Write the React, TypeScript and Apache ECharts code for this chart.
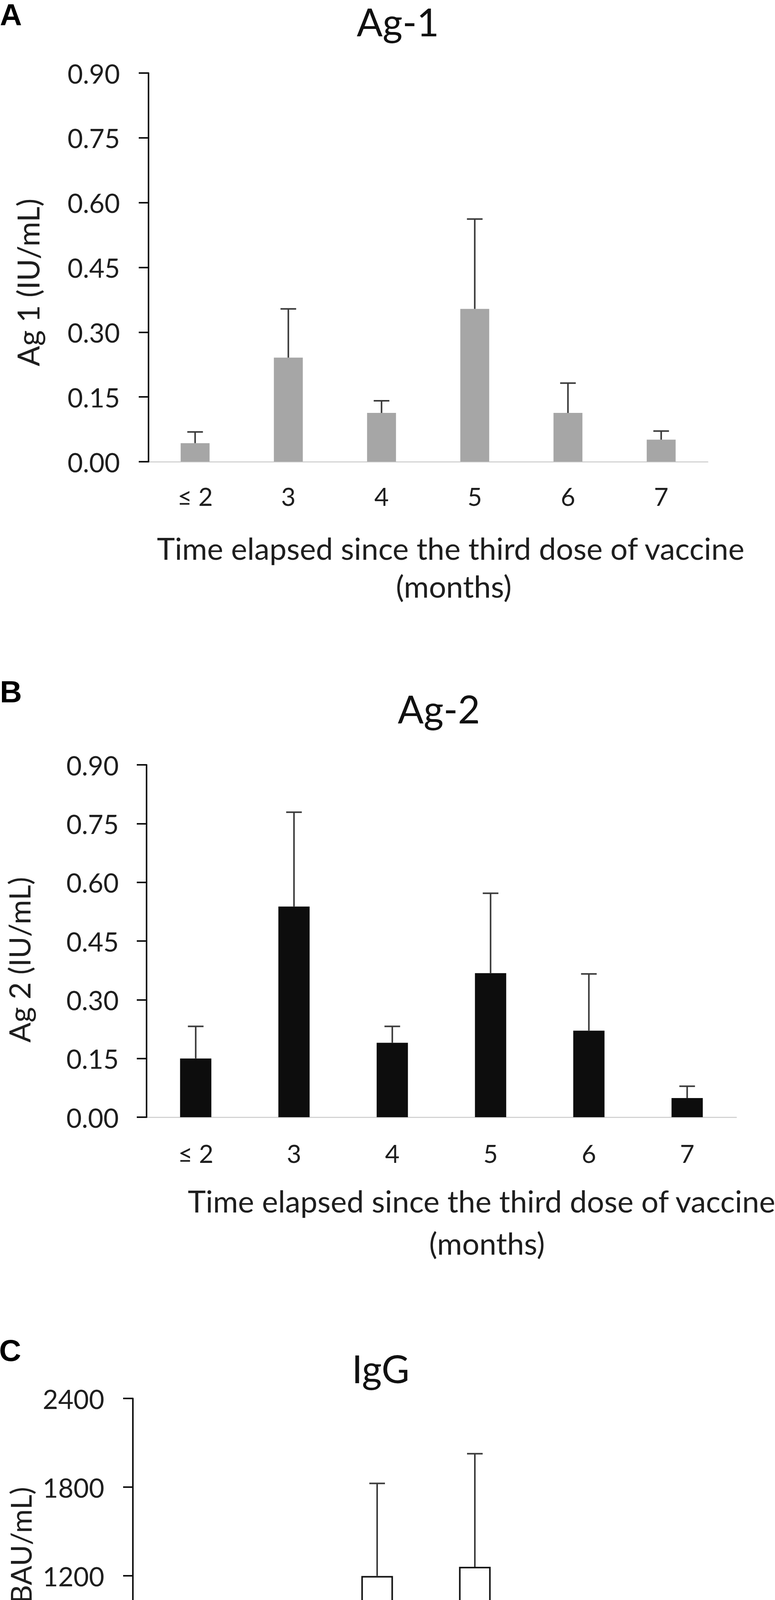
import React, { useEffect, useRef } from "react";
import * as echarts from "echarts";

// ---- data ----
const categories = ["≤ 2", "3", "4", "5", "6", "7"];

const ag1Mean = [0.043, 0.241, 0.113, 0.354, 0.113, 0.051];
const ag1Sd = [0.026, 0.113, 0.028, 0.208, 0.069, 0.020];

const ag2Mean = [0.150, 0.538, 0.190, 0.368, 0.221, 0.049];
const ag2Sd = [0.082, 0.241, 0.042, 0.204, 0.145, 0.030];

const iggMean = [82, 484, 1199, 1261, 279, 62];
const iggSd = [26, 186, 626, 765, 141, 27];

const agTicks = { min: 0, max: 0.9, interval: 0.15 };
const iggTicks = { min: 0, max: 2400, interval: 600 };

const panelLetters = ["A", "B", "C"];
const titles = ["Ag-1", "Ag-2", "IgG"];
const yNames = ["Ag 1 (IU/mL)", "Ag 2 (IU/mL)", "IgG (BAU/mL)"];
const xNameLine1 = "Time elapsed since the third dose of vaccine";
const xNameLine2 = ["(months)", "(months)", "(Months)"];

const FONT = "Lato, 'Open Sans', sans-serif";
const TEXT = "#1e1e1e";

// ---- layout (pixels) ----
const layout = [
  {
    grid: { left: 380, top: 187, width: 1431, height: 995 },
    barWidth: 74,
    catMargin: 56,
    yLabelMargin: 73,
    letter: [28, 38],
    title: [1018, 55],
    yName: [71, 723],
    yNameSize: 77,
    x1: [1153, 1403],
    x2: [1161, 1500],
  },
  {
    grid: { left: 375, top: 1958, width: 1509, height: 902 },
    barWidth: 80,
    catMargin: 60,
    yLabelMargin: 71,
    letter: [28, 1771],
    title: [1123, 1814],
    yName: [48, 2457],
    yNameSize: 76,
    x1: [1232, 3074],
    x2: [1246, 3182],
  },
  {
    grid: { left: 340, top: 3580, width: 1500, height: 908 },
    barWidth: 81,
    catMargin: 58,
    yLabelMargin: 73,
    letter: [26, 3457],
    title: [974, 3503],
    yName: [52, 4031],
    yNameSize: 74,
    x1: [1116, 4660],
    x2: [1125, 4762],
  },
];

const panelData = [
  { mean: ag1Mean, sd: ag1Sd, ticks: agTicks, decimals: 2 },
  { mean: ag2Mean, sd: ag2Sd, ticks: agTicks, decimals: 2 },
  { mean: iggMean, sd: iggSd, ticks: iggTicks, decimals: 0 },
];

const barStyles = [
  { color: "#a6a6a6" },
  { color: "#0d0d0d" },
  { color: "#ffffff", borderColor: "#111111", borderWidth: 4 },
];

export default function App() {
  const ref = useRef<HTMLDivElement>(null);

  useEffect(() => {
    if (!ref.current) return;
    const chart = echarts.init(ref.current, null, { renderer: "svg" });

    const grids: any[] = [];
    const xAxes: any[] = [];
    const yAxes: any[] = [];
    const series: any[] = [];
    const graphics: any[] = [];

    panelData.forEach((p, k) => {
      const L = layout[k];
      grids.push({ ...L.grid, containLabel: false });
      xAxes.push({
        type: "category",
        gridIndex: k,
        data: categories,
        axisTick: { show: false },
        axisLine: { show: true, lineStyle: { color: "#d3d3d3", width: 3 } },
        axisLabel: {
          fontFamily: FONT,
          fontSize: 64,
          color: TEXT,
          margin: L.catMargin,
        },
        z: 1,
      });
      yAxes.push({
        type: "value",
        gridIndex: k,
        min: p.ticks.min,
        max: p.ticks.max,
        interval: p.ticks.interval,
        splitLine: { show: false },
        axisLine: { show: true, lineStyle: { color: "#111", width: 4 } },
        axisTick: { show: true, length: 25, lineStyle: { color: "#111", width: 4 } },
        axisLabel: {
          fontFamily: FONT,
          fontSize: 68,
          color: TEXT,
          margin: L.yLabelMargin,
          formatter: (v: number) => v.toFixed(p.decimals),
        },
        z: 5,
      });
      series.push({
        type: "bar",
        xAxisIndex: k,
        yAxisIndex: k,
        data: p.mean,
        barWidth: L.barWidth,
        itemStyle: barStyles[k],
        z: 2,
      });
      series.push({
        type: "custom",
        xAxisIndex: k,
        yAxisIndex: k,
        encode: { x: 0, y: [1, 2] },
        data: p.mean.map((m, i) => [i, m, m + p.sd[i]]),
        z: 3,
        renderItem: (_params: any, api: any) => {
          const i = api.value(0);
          const a = api.coord([i, api.value(1)]);
          const b = api.coord([i, api.value(2)]);
          const cap = 20;
          const st = { stroke: "#3a3a3a", lineWidth: 4 };
          return {
            type: "group",
            children: [
              { type: "line", shape: { x1: a[0], y1: a[1], x2: b[0], y2: b[1] }, style: st },
              { type: "line", shape: { x1: b[0] - cap, y1: b[1], x2: b[0] + cap, y2: b[1] }, style: st },
            ],
          };
        },
      });

      graphics.push(
        {
          type: "text",
          x: L.letter[0],
          y: L.letter[1],
          style: {
            text: panelLetters[k],
            font: "bold 78px 'Liberation Sans', Arial, sans-serif",
            lineHeight: 60,
            fill: "#000",
            align: "center",
            verticalAlign: "middle",
          },
        },
        {
          type: "text",
          x: L.title[0],
          y: L.title[1],
          style: {
            text: titles[k],
            fontFamily: FONT,
            fontSize: 98,
            lineHeight: 84,
            fill: "#111",
            align: "center",
            verticalAlign: "middle",
          },
        },
        {
          type: "text",
          x: L.yName[0],
          y: L.yName[1],
          rotation: Math.PI / 2,
          style: {
            text: yNames[k],
            fontFamily: FONT,
            fontSize: L.yNameSize,
            lineHeight: 70,
            fill: TEXT,
            align: "center",
            verticalAlign: "middle",
          },
        },
        {
          type: "text",
          x: L.x1[0],
          y: L.x1[1],
          style: {
            text: xNameLine1,
            fontFamily: FONT,
            fontSize: 78,
            lineHeight: 78,
            fill: TEXT,
            align: "center",
            verticalAlign: "middle",
          },
        },
        {
          type: "text",
          x: L.x2[0],
          y: L.x2[1],
          style: {
            text: xNameLine2[k],
            fontFamily: FONT,
            fontSize: 78,
            lineHeight: 78,
            fill: TEXT,
            align: "center",
            verticalAlign: "middle",
          },
        }
      );
    });

    chart.setOption({
      animation: false,
      backgroundColor: "#ffffff",
      grid: grids,
      xAxis: xAxes,
      yAxis: yAxes,
      series,
      graphic: graphics,
    });

    return () => chart.dispose();
  }, []);

  return (
    <div
      ref={ref}
      style={{ position: "absolute", left: 0, top: 0, width: 1983, height: 4809, background: "#fff" }}
    />
  );
}
